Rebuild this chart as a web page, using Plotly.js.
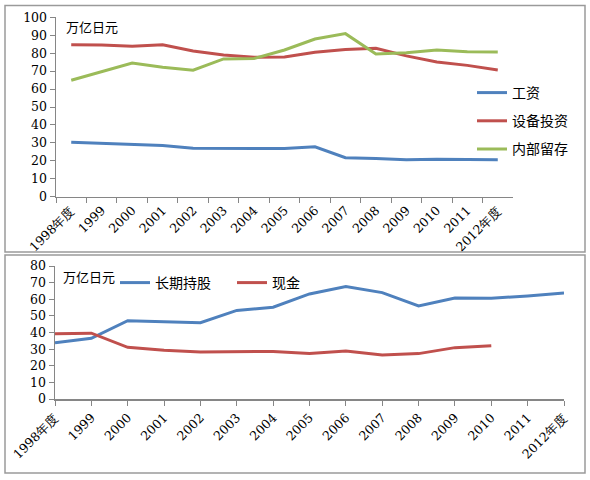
<!DOCTYPE html>
<html>
<head>
<meta charset="utf-8">
<script src="https://cdn.plot.ly/plotly-3.0.1.min.js"></script>
<style>
  body { margin: 0; background: #fff; }
  #chart { width: 590px; height: 480px; }
</style>
</head>
<body>
<div id="chart"></div>
<script>
// years shown on both charts
var years = ['1998年度', '1999', '2000', '2001', '2002', '2003', '2004', '2005',
             '2006', '2007', '2008', '2009', '2010', '2011', '2012年度'];

// top chart (万亿日元)
var wages     = [30.3, 29.6, 29.2, 28.5, 27.0, 27.0, 26.7, 26.9, 27.8, 21.7, 21.3, 20.6, 20.9, 20.9, 20.6];
var capex     = [84.7, 84.5, 83.8, 84.7, 81.2, 79.0, 77.7, 77.9, 80.5, 82.0, 82.7, 78.5, 75.1, 73.2, 70.6];
var retained  = [64.9, 69.5, 74.5, 72.1, 70.5, 76.8, 77.0, 81.8, 87.9, 90.9, 79.5, 80.3, 81.8, 80.8, 80.7];

// bottom chart (万亿日元)
var longHold  = [33.9, 36.5, 47.1, 46.5, 45.9, 53.3, 55.2, 63.2, 67.6, 64.0, 56.0, 60.8, 60.6, 62.0, 63.8];
var cash      = [39.3, 39.6, 31.1, 29.3, 28.3, 28.6, 28.6, 27.3, 28.9, 26.5, 27.3, 30.9, 32.1, null, null];

var BLUE = '#4F81BD', RED = '#C0504D', GREEN = '#9BBB59';
var serif = 'DejaVu Serif, Liberation Serif, serif';
var cjk = 'Noto Sans CJK SC, sans-serif';

function line(y, name, color, xa, ya, lg, grp) {
  return {
    x: years, y: y, name: name, type: 'scatter', mode: 'lines',
    line: {color: color, width: 3},
    xaxis: xa, yaxis: ya, legend: lg, legendgroup: grp,
    connectgaps: false, hoverinfo: 'skip'
  };
}

var data = [
  line(wages, '工资', BLUE, 'x', 'y', 'legend', 'a'),
  line(capex, '设备投资', RED, 'x', 'y', 'legend', 'b'),
  line(retained, '内部留存', GREEN, 'x', 'y', 'legend', 'c'),
  line(longHold, '长期持股', BLUE, 'x2', 'y2', 'legend2', 'd'),
  line(cash, '现金', RED, 'x2', 'y2', 'legend2', 'e')
];

var axisLine = '#868686';
var tickFont = {family: serif, size: 12.5, color: '#000'};

var layout = {
  width: 590, height: 480,
  margin: {l: 0, r: 0, t: 0, b: 0},
  paper_bgcolor: '#fff', plot_bgcolor: 'rgba(0,0,0,0)',
  font: {family: cjk, color: '#000'},
  xaxis: {
    domain: [56 / 590, 513 / 590], anchor: 'y',
    type: 'category', range: [-0.5, 14.5], tickson: 'boundaries',
    showline: true, linecolor: axisLine, linewidth: 1.5,
    ticks: 'outside', ticklen: 5, tickcolor: axisLine,
    tickangle: -45, tickfont: tickFont, showgrid: false, zeroline: false
  },
  yaxis: {
    domain: [(480 - 196.7) / 480, (480 - 17.3) / 480], anchor: 'x',
    range: [0, 100], dtick: 10,
    showline: true, linecolor: axisLine, linewidth: 1.5,
    ticks: 'outside', ticklen: 5, tickcolor: axisLine,
    tickfont: tickFont, showgrid: false, zeroline: false
  },
  xaxis2: {
    domain: [55 / 590, 564 / 590], anchor: 'y2',
    type: 'category', range: [0, 14],
    showline: true, linecolor: axisLine, linewidth: 1.5,
    ticks: 'outside', ticklen: 5, tickcolor: axisLine,
    tickangle: -45, tickfont: tickFont, showgrid: false, zeroline: false
  },
  yaxis2: {
    domain: [(480 - 399) / 480, (480 - 266) / 480], anchor: 'x2',
    range: [0, 80], dtick: 10,
    showline: true, linecolor: axisLine, linewidth: 1.5,
    ticks: 'outside', ticklen: 5, tickcolor: axisLine,
    tickfont: tickFont, showgrid: false, zeroline: false
  },
  showlegend: true,
  legend: {
    x: 472 / 590, y: (480 - 77) / 480, xanchor: 'left', yanchor: 'top',
    traceorder: 'grouped', tracegroupgap: 7,
    font: {family: cjk, size: 14, color: '#000'},
    bgcolor: 'rgba(0,0,0,0)', itemwidth: 30
  },
  legend2: {
    orientation: 'h', x: 115 / 590, y: (480 - 267) / 480,
    xanchor: 'left', yanchor: 'top', entrywidth: 72,
    font: {family: cjk, size: 14, color: '#000'},
    bgcolor: 'rgba(0,0,0,0)', itemwidth: 30
  },
  annotations: [
    {text: '万亿日元', xref: 'paper', yref: 'paper', x: 64 / 590, y: (480 - 26) / 480,
     xanchor: 'left', yanchor: 'middle', showarrow: false, font: {family: cjk, size: 13}},
    {text: '万亿日元', xref: 'paper', yref: 'paper', x: 61 / 590, y: (480 - 276) / 480,
     xanchor: 'left', yanchor: 'middle', showarrow: false, font: {family: cjk, size: 13}}
  ],
  shapes: [
    {type: 'rect', xref: 'paper', yref: 'paper', x0: 5 / 590, x1: 585 / 590,
     y0: (480 - 252) / 480, y1: (480 - 5.5) / 480, line: {color: '#9a9a9a', width: 1.5}},
    {type: 'rect', xref: 'paper', yref: 'paper', x0: 5 / 590, x1: 585 / 590,
     y0: (480 - 473) / 480, y1: (480 - 255) / 480, line: {color: '#9a9a9a', width: 1.5}}
  ]
};

Plotly.newPlot('chart', data, layout, {displayModeBar: false, staticPlot: true});
</script>
</body>
</html>
